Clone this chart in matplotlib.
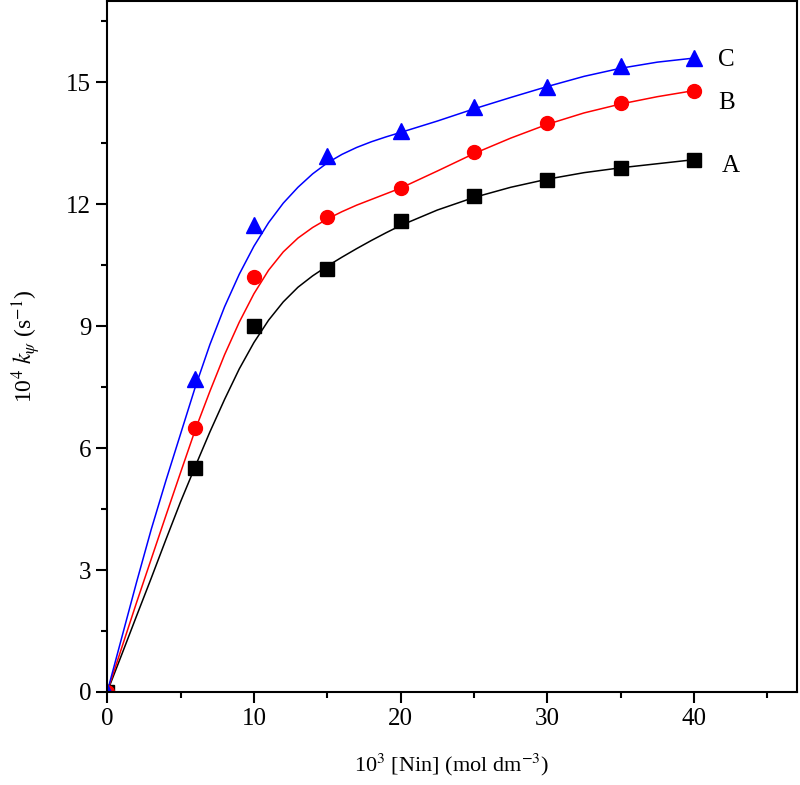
import matplotlib
matplotlib.use('Agg')
import matplotlib.pyplot as plt
from matplotlib.ticker import MultipleLocator

plt.rcParams['font.family'] = ['Liberation Serif', 'DejaVu Serif']
plt.rcParams['mathtext.fontset'] = 'stix'

# measured points
nin = [0, 6, 10, 15, 20, 25, 30, 35, 40]
k_A = [0, 5.5, 9.0, 10.4, 11.6, 12.2, 12.6, 12.9, 13.1]
k_B = [0, 6.5, 10.2, 11.7, 12.4, 13.3, 14.0, 14.5, 14.8]
k_C = [0, 7.7, 11.5, 13.2, 13.8, 14.4, 14.9, 15.4, 15.6]

# fitted curves
fit_x = [0, 1, 2, 3, 4, 5, 6, 7, 8, 9, 10, 11, 12, 13, 14, 15, 16, 17, 18, 19, 20,
         22.5, 25, 27.5, 30, 32.5, 35, 37.5, 40]
fit_A = [0, 0.93, 1.87, 2.8, 3.75, 4.68, 5.55, 6.4, 7.2, 7.95, 8.6, 9.15, 9.6, 9.96, 10.24,
         10.48, 10.7, 10.91, 11.11, 11.3, 11.48, 11.86, 12.17, 12.42, 12.62, 12.78, 12.9, 13.0, 13.1]
fit_B = [0, 1.1, 2.2, 3.27, 4.34, 5.4, 6.45, 7.4, 8.3, 9.1, 9.8, 10.38, 10.83, 11.17, 11.43,
         11.64, 11.82, 11.98, 12.12, 12.26, 12.4, 12.82, 13.25, 13.63, 13.97, 14.25, 14.47, 14.65, 14.8]
fit_C = [0, 1.35, 2.7, 4.0, 5.2, 6.35, 7.5, 8.55, 9.48, 10.28, 10.97, 11.55, 12.03, 12.42, 12.75,
         13.02, 13.23, 13.4, 13.54, 13.66, 13.77, 14.05, 14.35, 14.63, 14.9, 15.15, 15.35, 15.5, 15.6]

fig = plt.figure(figsize=(8, 7.85), dpi=100)
ax = fig.add_axes([0.134, 0.1185, 0.862, 0.88])

ax.plot(fit_x, fit_A, color='black', lw=1.1)
ax.plot(fit_x, fit_B, color='red', lw=1.1)
ax.plot(fit_x, fit_C, color='blue', lw=1.1)
ax.plot(nin, k_A, 's', color='black', ms=9.5, ls='none')
ax.plot(nin, k_B, 'o', color='red', ms=10, ls='none')
ax.plot(nin, k_C, '^', color='blue', ms=11, ls='none')

ax.text(42.5, 12.95, 'A', fontsize=18, ha='center', va='center')
ax.text(42.2, 14.5, 'B', fontsize=18, ha='center', va='center')
ax.text(42.2, 15.55, 'C', fontsize=18, ha='center', va='center')

ax.set_xlim(0, 47)
ax.set_ylim(0, 17)
ax.xaxis.set_major_locator(MultipleLocator(10))
ax.xaxis.set_minor_locator(MultipleLocator(5))
ax.yaxis.set_major_locator(MultipleLocator(3))
ax.yaxis.set_minor_locator(MultipleLocator(1.5))
ax.tick_params(which='major', direction='out', length=8, width=1.5, labelsize=18)
ax.tick_params(which='minor', direction='out', length=4, width=1.5)
for s in ax.spines.values():
    s.set_linewidth(1.5)

ax.set_xlabel(r'10$^3$ [Nin] (mol dm$^{-3}$)', fontsize=16, labelpad=16)
ax.set_ylabel(r'10$^4$ $k_\psi$ (s$^{-1}$)', fontsize=17, labelpad=17)

plt.savefig('out.png', dpi=100)
